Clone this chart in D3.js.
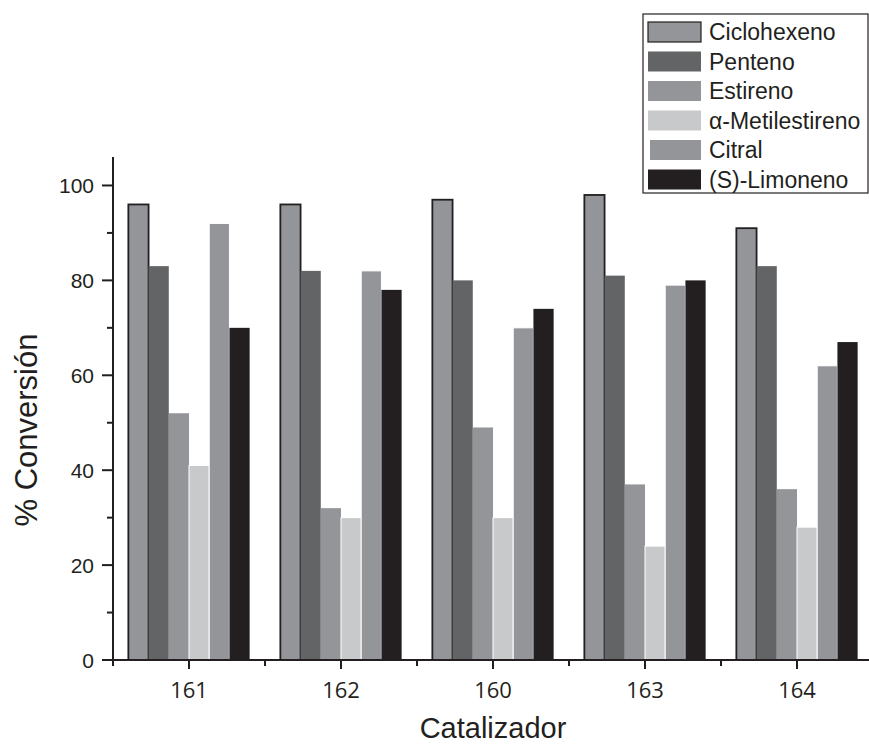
<!DOCTYPE html>
<html lang="es">
<head>
	<meta charset="UTF-8">
	<title>Conversión por catalizador</title>
	<script src="https://d3js.org/d3.v7.min.js"></script>
	<style>
		body{
			margin: 0;
			background-color: #ffffff;
		}
		text{
			font-family: "Liberation Sans", Arial, sans-serif;
			fill: #231f20;
		}
		.axis line{
			stroke: #231f20;
			stroke-width: 2;
		}
		.axis--x text{
			font-family: "Open Sans", "Noto Sans", sans-serif;
			font-size: 22px;
		}
		.axis--y text{
			font-size: 21px;
		}
	</style>
</head>
<body>
<script type="text/javascript">
	var categories = ['161', '162', '160', '163', '164'];
	var series = ['Ciclohexeno', 'Penteno', 'Estireno', 'α-Metilestireno', 'Citral', '(S)-Limoneno'];
	var ciclohexeno = [96, 96, 97, 98, 91];
	var penteno = [83, 82, 80, 81, 83];
	var estireno = [52, 32, 49, 37, 36];
	var metilestireno = [41, 30, 30, 24, 28];
	var citral = [92, 82, 70, 79, 62];
	var limoneno = [70, 78, 74, 80, 67];
	var yTicks = [0, 20, 40, 60, 80, 100];

	var values = [ciclohexeno, penteno, estireno, metilestireno, citral, limoneno];
	var colors = ['#939598', '#636466', '#939598', '#c8c9cb', '#939598', '#231f20'];
	var strokes = ['#231f20', 'none', 'none', '#ffffff', '#ffffff', 'none'];

	var W = 869, H = 745;
	var margin = {top: 157, left: 113, bottom: 85};

	var svg = d3.select('body').append('svg')
		.attr('width', W)
		.attr('height', H);

	var y = d3.scaleLinear()
		.domain([0, 106])
		.range([H - margin.bottom, margin.top]);

	var x = d3.scaleBand()
		.domain(categories)
		.range([margin.left, margin.left + 760]);

	var xs = d3.scaleBand()
		.domain(series)
		.range([0, x.bandwidth()])
		.paddingOuter(0.76);

	//----Balken----//
	var rows = [];
	categories.forEach(function (c, i) {
		series.forEach(function (s, j) {
			rows.push({cat: c, ser: s, j: j, v: values[j][i]});
		});
	});

	svg.append('g').selectAll('rect')
		.data(rows)
		.enter().append('rect')
		.attr('x', function (d) { return x(d.cat) + xs(d.ser); })
		.attr('y', function (d) { return y(d.v); })
		.attr('width', xs.bandwidth())
		.attr('height', function (d) { return y(0) - y(d.v); })
		.attr('fill', function (d) { return colors[d.j]; })
		.attr('stroke', function (d) { return strokes[d.j]; })
		.attr('stroke-width', function (d) { return d.j === 0 ? 1.8 : 1; });

	//----Achsen----//
	var gx = svg.append('g')
		.attr('class', 'axis axis--x')
		.attr('transform', 'translate(0,' + y(0) + ')');
	gx.append('line')
		.attr('x1', margin.left).attr('x2', W)
		.attr('y1', 0).attr('y2', 0);
	gx.selectAll('.minor')
		.data(categories)
		.enter().append('line')
		.attr('x1', function (d) { return x(d); })
		.attr('x2', function (d) { return x(d); })
		.attr('y1', 0).attr('y2', 6);
	gx.selectAll('.major')
		.data(categories)
		.enter().append('line')
		.attr('x1', function (d) { return x(d) + x.bandwidth() / 2; })
		.attr('x2', function (d) { return x(d) + x.bandwidth() / 2; })
		.attr('y1', 0).attr('y2', 9);
	gx.selectAll('text')
		.data(categories)
		.enter().append('text')
		.attr('x', function (d) { return x(d) + x.bandwidth() / 2; })
		.attr('y', 38)
		.attr('text-anchor', 'middle')
		.text(function (d) { return d; });

	var gy = svg.append('g')
		.attr('class', 'axis axis--y')
		.attr('transform', 'translate(' + margin.left + ',0)');
	gy.append('line')
		.attr('x1', 0).attr('x2', 0)
		.attr('y1', y(106)).attr('y2', y(0));
	gy.selectAll('.minor')
		.data(d3.range(10, 101, 20))
		.enter().append('line')
		.attr('x1', -6).attr('x2', 0)
		.attr('y1', function (d) { return y(d); })
		.attr('y2', function (d) { return y(d); });
	gy.selectAll('.major')
		.data(yTicks)
		.enter().append('line')
		.attr('x1', -11).attr('x2', 0)
		.attr('y1', function (d) { return y(d); })
		.attr('y2', function (d) { return y(d); });
	gy.selectAll('text')
		.data(yTicks)
		.enter().append('text')
		.attr('x', -19)
		.attr('y', function (d) { return y(d); })
		.attr('dy', '0.36em')
		.attr('text-anchor', 'end')
		.text(function (d) { return d; });

	svg.append('text')
		.attr('transform', 'translate(37,430) rotate(-90)')
		.attr('text-anchor', 'middle')
		.style('font-size', '31px')
		.text('% Conversión');

	svg.append('text')
		.attr('x', 493)
		.attr('y', 738)
		.attr('text-anchor', 'middle')
		.style('font-size', '29px')
		.text('Catalizador');

	//----Legende----//
	var lg = svg.append('g').attr('transform', 'translate(643,14)');
	lg.append('rect')
		.attr('width', 225).attr('height', 179)
		.attr('fill', 'white')
		.attr('stroke', '#231f20')
		.attr('stroke-width', 1.2);
	var item = lg.selectAll('.item')
		.data(series)
		.enter().append('g')
		.attr('transform', function (d, i) { return 'translate(0,' + (18 + i * 29.5) + ')'; });
	item.append('rect')
		.attr('x', function (d, i) { return i === 4 ? 7 : 5; })
		.attr('y', -10)
		.attr('width', function (d, i) { return i === 4 ? 51 : 53; })
		.attr('height', 20)
		.attr('fill', function (d, i) { return colors[i]; })
		.attr('stroke', function (d, i) { return i === 0 ? '#231f20' : 'none'; })
		.attr('stroke-width', 1.2);
	item.append('text')
		.attr('x', 66)
		.attr('dy', '0.36em')
		.style('font-size', '23px')
		.text(function (d) { return d; });
</script>
</body>
</html>
